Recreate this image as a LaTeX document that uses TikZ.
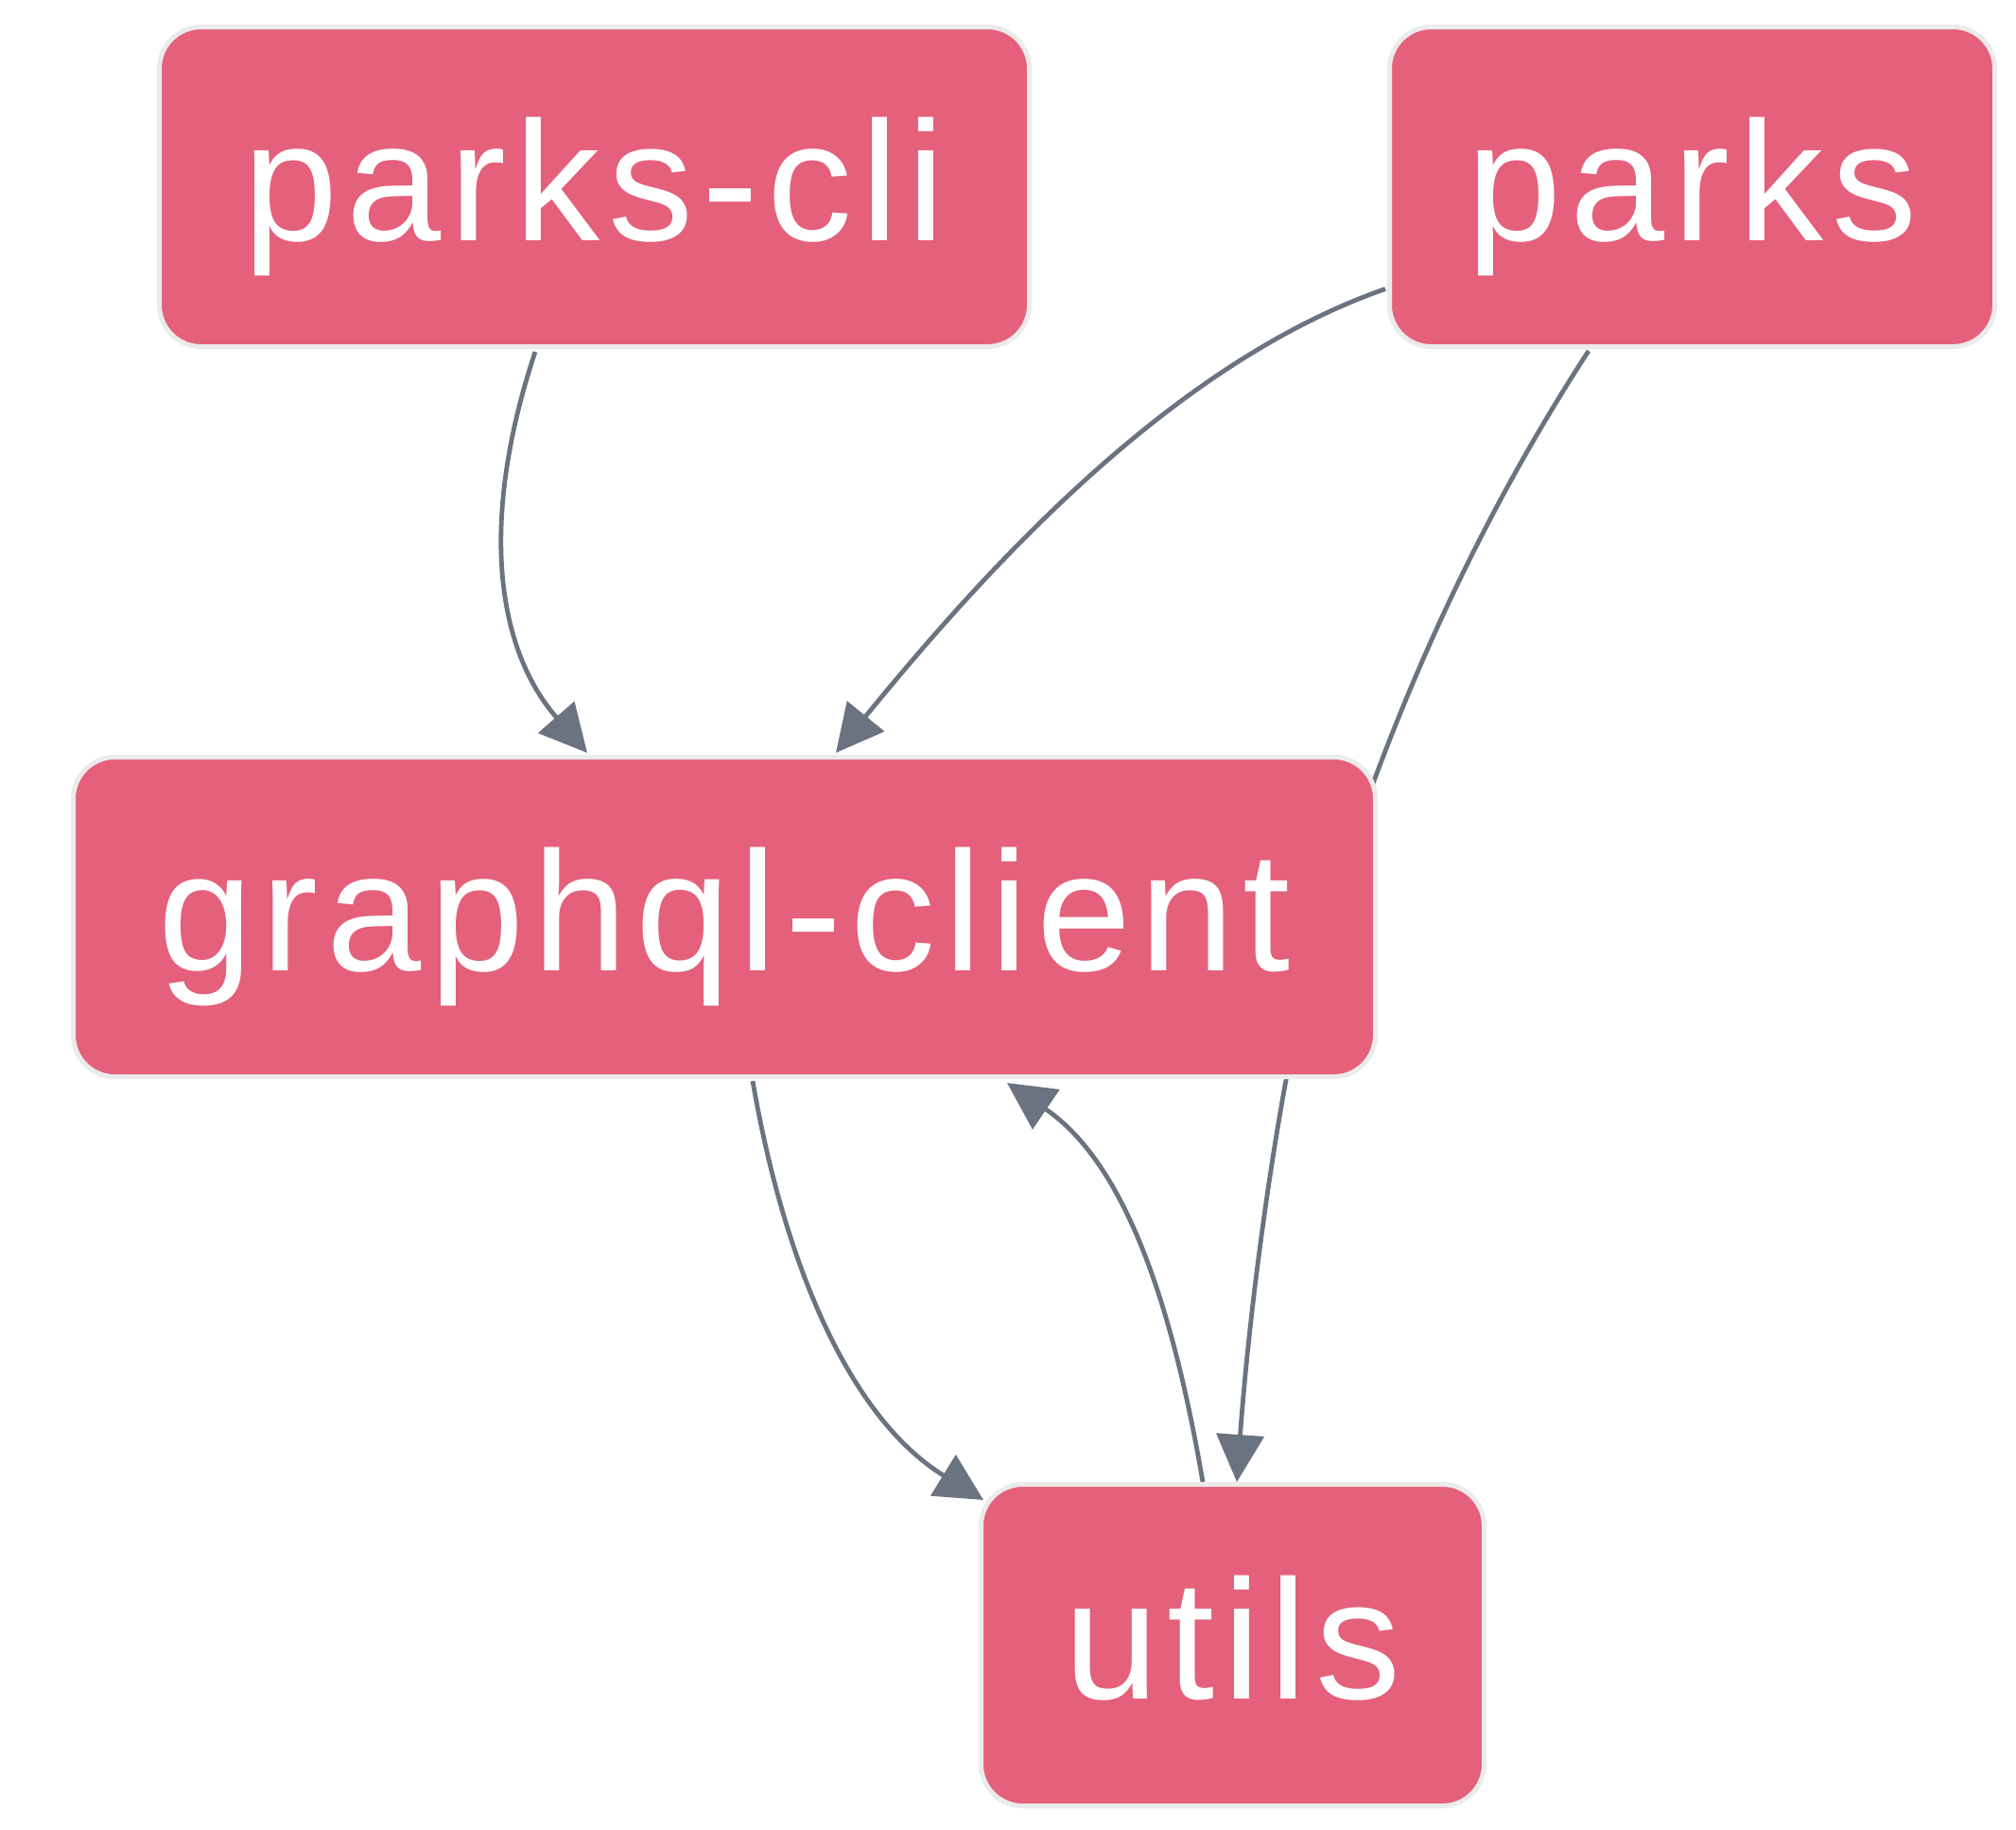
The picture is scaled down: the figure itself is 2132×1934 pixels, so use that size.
\documentclass[tikz,border=0pt]{standalone}
\usepackage{fontspec}
\setmainfont[LetterSpace=5]{Liberation Sans}
\usetikzlibrary{arrows.meta,calc}
\definecolor{boxfill}{HTML}{E5607A}
\definecolor{boxline}{HTML}{EBEBEB}
\definecolor{edgecol}{HTML}{6B7280}
\pgfdeclarelayer{background}
\pgfsetlayers{background,main}
\tikzset{
  pkg/.style={draw=boxline, line width=2.5pt, fill=boxfill, rounded corners=22pt,
    text=white, font=\fontsize{90}{100}\selectfont, text height=64.8pt, text depth=8.3pt,
    minimum height=169pt, inner sep=0pt},
  dep/.style={draw=edgecol, line width=2.4pt, -{Triangle[length=25pt,width=25pt]}},
}
\begin{document}
\begin{tikzpicture}[x=0.5pt,y=-0.5pt]
\useasboundingbox (0,0) rectangle (2132,1934);
\node[pkg, minimum width=460pt] (pc) at (628.5,197.5) {parks-cli};
\node[pkg, minimum width=320pt] (pk) at (1789.5,197.5) {parks};
\node[pkg, minimum width=688.5pt] (gc) at (766,969.5) {graphql-client};
\node[pkg, minimum width=266pt, minimum height=170pt] (ut) at (1303.5,1739.5) {utils};
\begin{pgfonlayer}{background}
\draw[dep] ($(pc.south west)+(400,3)$) .. controls ($(pc.south west)+(344,171)$) and ($(gc.north west)+(445,-118)$) .. ($(gc.north west)+(546,-2)$);
\draw[dep] ($(pk.west)+(-2,108)$) .. controls ($(pk.west)+(-217,183)$) and ($(gc.north west)+(985,-218)$) .. ($(gc.north west)+(809,-2)$);
\draw[dep] ($(pk.south west)+(213,2)$) .. controls ($(pk.south west)+(103,171)$) and ($(pk.south west)+(33,331)$) .. ($(gc.north east)+(-3,25)$)
  .. controls ($(gc.north east)+(-47,142)$) and ($(gc.north east)+(-77,242)$) .. ($(gc.south east)+(-97,1)$)
  .. controls ($(gc.south east)+(-117,109)$) and ($(ut.north west)+(285,-167)$) .. ($(ut.north west)+(273,0)$);
\draw[dep] ($(gc.south west)+(721,2)$) .. controls ($(gc.south west)+(755,199)$) and ($(ut.north west)+(-135,-67)$) .. ($(ut.north west)+(5,19)$);
\draw[dep] ($(ut.north west)+(237,0)$) .. controls ($(ut.north west)+(205,-187)$) and ($(gc.south west)+(1115,89)$) .. ($(gc.south west)+(990,4)$);
\end{pgfonlayer}
\end{tikzpicture}
\end{document}
